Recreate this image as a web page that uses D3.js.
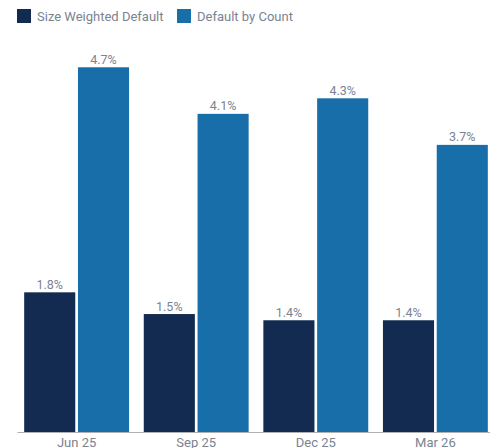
<!DOCTYPE html>
<html><head><meta charset="utf-8">
<script src="https://cdn.jsdelivr.net/npm/d3@7"></script>
<style>body{margin:0;background:#fff;} svg{display:block;font-family:Roboto,"Noto Sans",sans-serif;}</style>
</head><body><svg id="c" width="490" height="448"></svg>
<script>
const categories = ["Jun 25", "Sep 25", "Dec 25", "Mar 26"];
const seriesNames = ["Size Weighted Default", "Default by Count"];
const sizeWeighted = [1.8, 1.52, 1.44, 1.44];
const byCount = [4.7, 4.1, 4.3, 3.7];
const colors = ["#132b50", "#186ea9"];

const series = [sizeWeighted, byCount];
const svg = d3.select("#c");
const x0 = d3.scaleBand().domain(categories).range([17, 495]).paddingInner(0.123).paddingOuter(0.06);
const x1 = d3.scaleBand().domain(seriesNames).range([0, x0.bandwidth()]).paddingInner(0.05);
const y = d3.scaleLinear().domain([0, 5]).range([432, 44]);
const color = d3.scaleOrdinal().domain(seriesNames).range(colors);

const data = categories.map((c, i) => ({cat: c, vals: seriesNames.map((s, j) => ({s, v: series[j][i]}))}));

const g = svg.append("g").selectAll("g").data(data).join("g")
  .attr("transform", d => `translate(${x0(d.cat)},0)`);
g.selectAll("rect").data(d => d.vals).join("rect")
  .attr("x", d => x1(d.s)).attr("width", x1.bandwidth())
  .attr("y", d => y(d.v)).attr("height", d => y(0) - y(d.v))
  .attr("fill", d => color(d.s));
g.selectAll("text").data(d => d.vals).join("text")
  .attr("x", d => x1(d.s) + x1.bandwidth() / 2).attr("y", d => y(d.v) - 3.5)
  .attr("text-anchor", "middle").attr("font-size", 12.5).attr("fill", "#7a8391")
  .text(d => d3.format(".1f")(d.v) + "%");

const ax = svg.append("g").attr("transform", "translate(0,432)")
  .call(d3.axisBottom(x0).tickSize(0).tickPadding(6));
ax.select(".domain").attr("stroke", "#b0b0b0");
ax.selectAll("text").attr("font-size", 13).attr("fill", "#7a8391").attr("font-family", "Roboto, sans-serif");

const leg = svg.append("g");
const lx = [17, 177];
seriesNames.forEach((s, i) => {
  leg.append("rect").attr("x", lx[i]).attr("y", 9).attr("width", 14).attr("height", 14).attr("fill", color(s));
  leg.append("text").attr("x", lx[i] + 20).attr("y", 20.5).attr("font-size", 13).attr("fill", "#7a8391").text(s);
});
</script></body></html>
